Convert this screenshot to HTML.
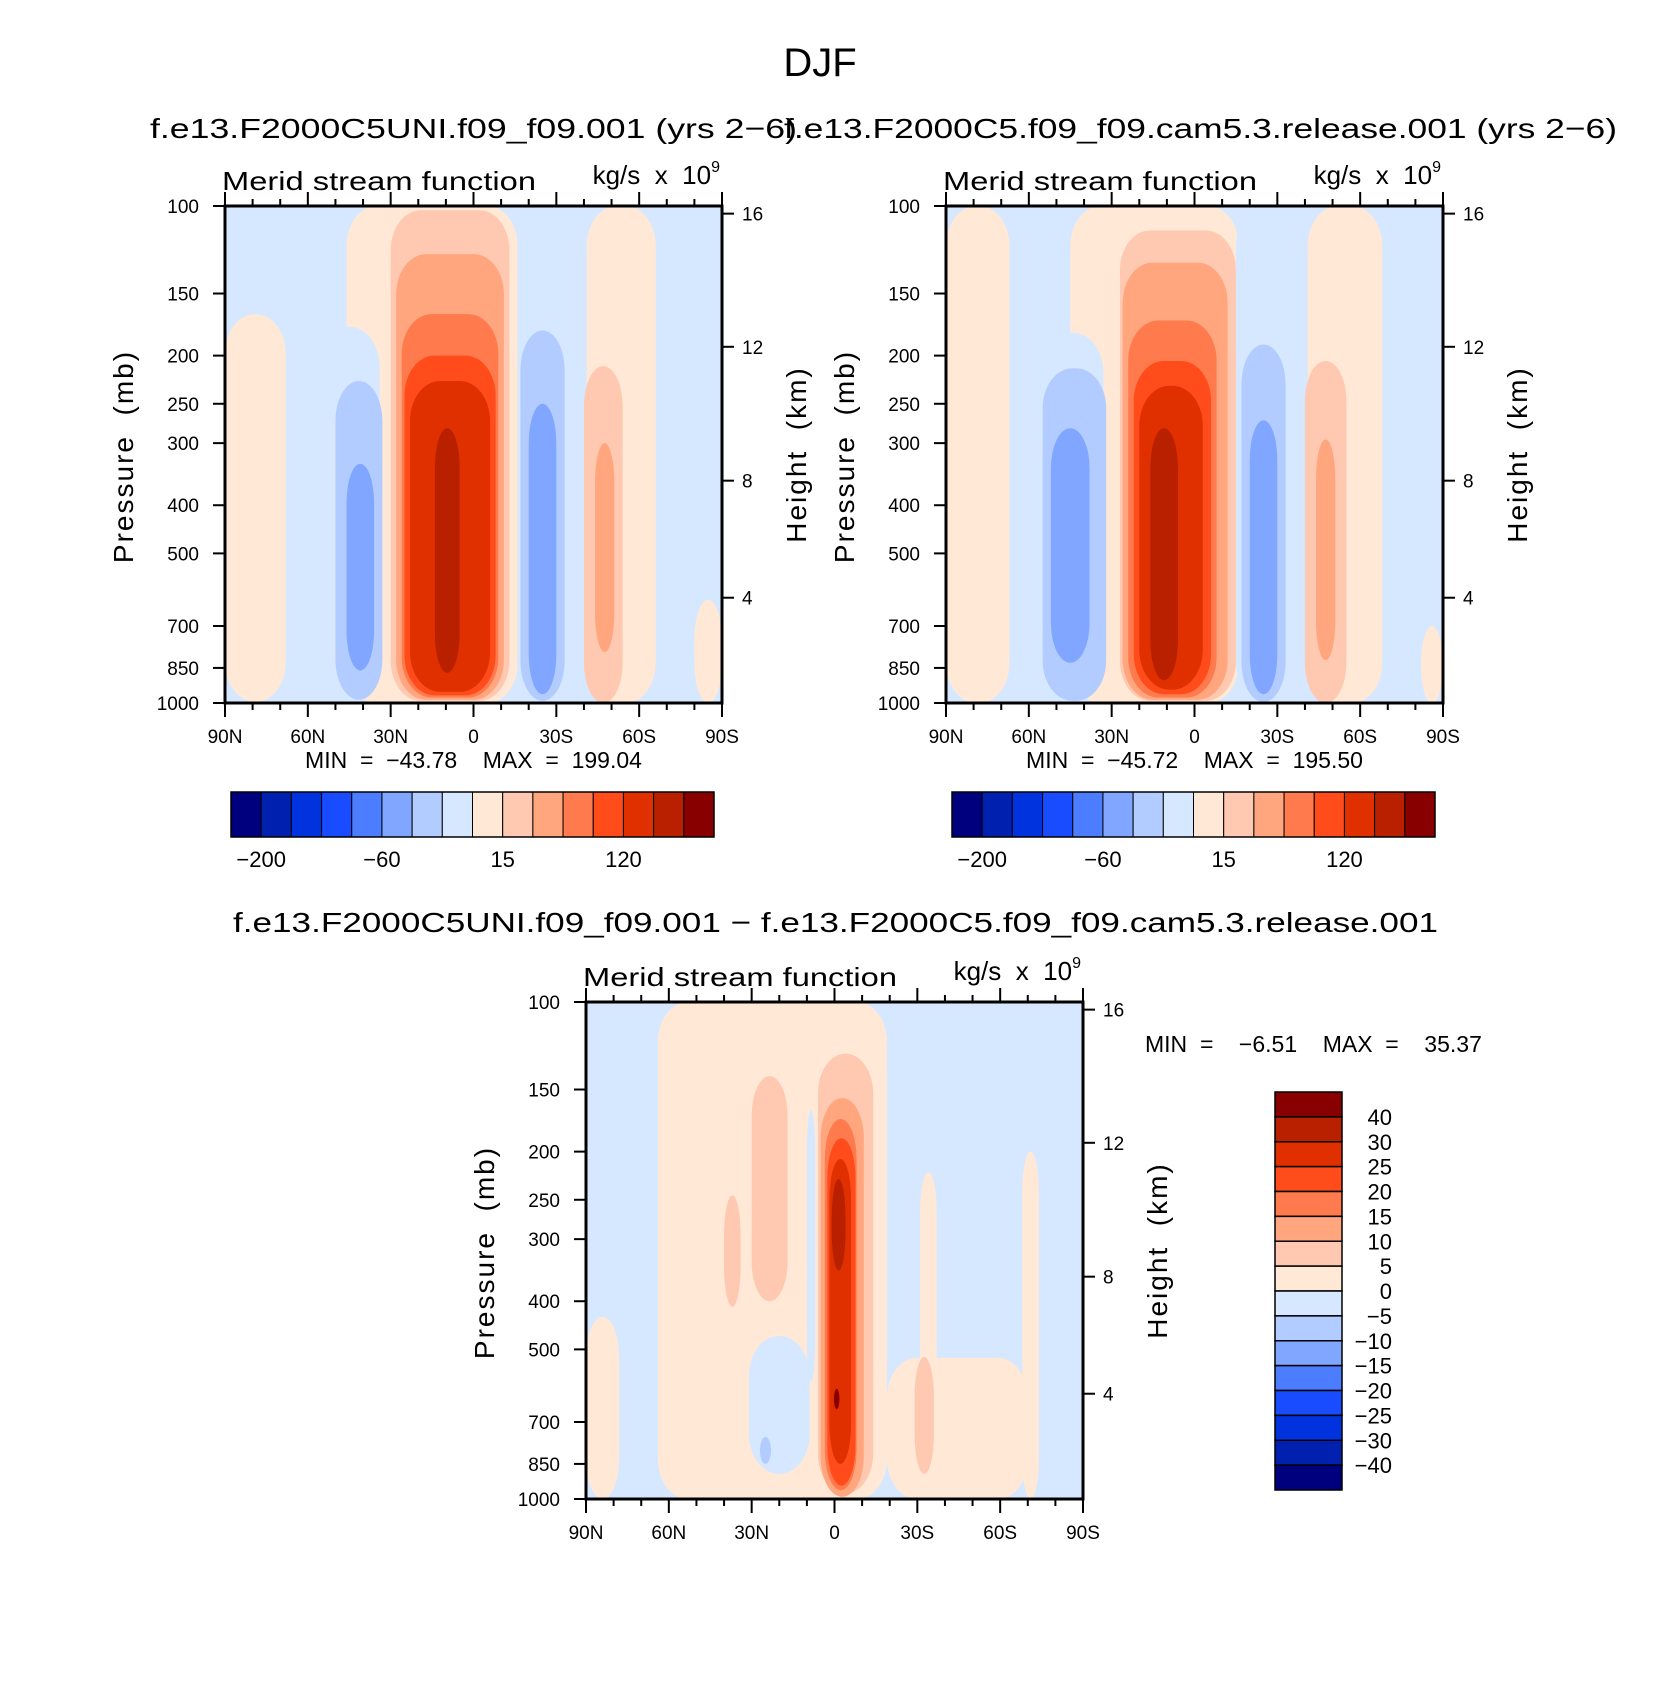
<!DOCTYPE html>
<html><head><meta charset="utf-8">
<style>
html,body{margin:0;padding:0;background:#fff;}
svg{display:block;font-family:"Liberation Sans",sans-serif;}
text{white-space:pre;}
</style></head>
<body>
<svg id="fig" width="1660" height="1691" viewBox="0 0 1660 1691" xmlns="http://www.w3.org/2000/svg">
<text x="820" y="76" font-size="40" text-anchor="middle">DJF</text>
<text x="150" y="138" font-size="28" textLength="647" lengthAdjust="spacingAndGlyphs">f.e13.F2000C5UNI.f09_f09.001 (yrs 2−6)</text>
<text x="784" y="138" font-size="28" textLength="833" lengthAdjust="spacingAndGlyphs">f.e13.F2000C5.f09_f09.cam5.3.release.001 (yrs 2−6)</text>
<text x="233" y="932" font-size="28" textLength="1205" lengthAdjust="spacingAndGlyphs">f.e13.F2000C5UNI.f09_f09.001 − f.e13.F2000C5.f09_f09.cam5.3.release.001</text>
</svg>
<script>
// ---- data ----
const latTicks = [90,60,30,0,-30,-60,-90];
const latTickLabels = ["90N","60N","30N","0","30S","60S","90S"];
const presTicks = [100,150,200,250,300,400,500,700,850,1000];
const heightTicks = [4,8,12,16];
const heightTickPres = [614,357,192,103.6];
const levelsFull = [-200,-150,-100,-80,-60,-40,-15,0,15,40,60,80,120,150,200];
const levelsFullLabels = ["-200","","","","-60","","","","15","","","","120","",""];
const levelsDiff = [-40,-30,-25,-20,-15,-10,-5,0,5,10,15,20,25,30,40];
const colors = ["#00007f","#0020b0","#0033dd","#1a4cff","#4c7dff","#80a6ff","#b3ccff","#d6e8ff","#ffe8d6","#ffc8b0","#ffa67f","#ff7a4c","#ff4c1a","#e03000","#b82000","#880000"];
// patches: [latNorth, latSouth, pTop, pBottom, colorIndex(1-16)]
const patches1 = [
 [90,-90,100,1000,8],[90,68,165,995,9],[46,-16,100,1000,9],[57,34,175,1000,8],
 [50,33,225,985,7],[46,36,330,860,6],
 [30,-13,102,990,10],[28,-11,125,985,11],[26,-9,165,975,12],[25,-8,200,965,13],[23,-6,225,950,14],[14,5,280,870,15],
 [-16,-40,100,1000,8],[-17,-33,178,990,7],[-20,-30,250,960,6],
 [-41,-66,100,1000,9],[-40,-54,210,1000,10],[-44,-51,300,790,11],[-80,-90,620,1000,9]
];
const patches2 = [
 [90,-90,100,1000,8],[90,67,100,1000,9],[45,-16,100,1000,9],[57,33,180,1000,8],
 [55,32,212,990,7],[52,38,280,830,6],
 [27,-15,112,990,10],[26,-12,130,985,11],[24,-8,170,975,12],[22,-6,205,960,13],[20,-3,230,940,14],[16,6,280,900,15],
 [-15,-40,100,1000,8],[-17,-33,190,995,7],[-20,-30,270,960,6],
 [-41,-68,100,1000,9],[-40,-55,205,1000,10],[-44,-51,295,820,11],[-82,-90,700,1000,9]
];
const patches3 = [
 [90,-90,100,1000,8],[64,-19,100,1000,9],[-19,-70,520,1000,9],[-31,-37,220,1000,9],[-68,-74,200,1000,9],
 [90,78,430,1000,9],[31,9,470,890,8],[27,23,750,850,7],[10,7,165,580,8],
 [30,17,141,400,10],[40,34,245,410,10],[-29,-36,518,890,10],
 [6,-14,127,975,10],[5,-10.6,156,990,11],[3.5,-8,172,960,12],[2.6,-7.6,188,940,13],[1.8,-6,207,850,14],[1,-4,227,347,15],[0.2,-1.8,600,660,16]
];
const panelMin = ["-43.78","-45.72","-6.51"];
const panelMax = ["199.04","195.50","35.37"];

const NS="http://www.w3.org/2000/svg";
const svg=document.getElementById('fig');
function mk(tag,attrs,parent,txt){const e=document.createElementNS(NS,tag);for(const k in attrs)e.setAttribute(k,attrs[k]);if(txt!==undefined)e.textContent=txt;(parent||svg).appendChild(e);return e;}

function panel(px,py,size,patches,idx){
 const g=mk('g',{});
 
 
 const xs=lat=>px+(90-lat)/180*size;
 const ys=p=>py+Math.log10(p/100)*size;
 const clipId='clip'+idx;
 const cp=mk('clipPath',{id:clipId},g);mk('rect',{x:px,y:py,width:size,height:size},cp);
 const fg=mk('g',{'clip-path':'url(#'+clipId+')'},g);
 
 
 patches.forEach((pt,i)=>{
  const x1=xs(pt[0]),x2=xs(pt[1]),y1=ys(pt[2]),y2=ys(pt[3]);
  const w=x2-x1,h=y2-y1;
  const rx=Math.min(w/2,30),ry=Math.min(h/2,i===0?0:40);
  const r=mk('rect',{x:x1,y:y1,width:w,height:h,rx:i===0?0:rx,ry:i===0?0:ry,fill:colors[pt[4]-1]},fg);
  
  
 });
 const fr=mk('rect',{x:px,y:py,width:size,height:size,fill:'none',stroke:'#000','stroke-width':3},g);
 
 
 for(let l=-90;l<=90;l+=10){
  const x=xs(l),maj=latTicks.includes(l),len=maj?14:7;
  mk('line',{x1:x,x2:x,y1:py+size,y2:py+size+len,stroke:'#000','stroke-width':2},g);
  mk('line',{x1:x,x2:x,y1:py,y2:py-len,stroke:'#000','stroke-width':2},g);
 }
 latTicks.forEach((l,i)=>{const t=mk('text',{x:xs(l),y:py+size+40,'font-size':19,'text-anchor':'middle'},g,latTickLabels[i]);
  
  });
 presTicks.forEach(p=>{const y=ys(p);
  mk('line',{x1:px-12,x2:px,y1:y,y2:y,stroke:'#000','stroke-width':2},g);
  const t=mk('text',{x:px-26,y:y+7,'font-size':19,'text-anchor':'end'},g,String(p));
  
  });
 heightTicks.forEach((h,i)=>{const y=ys(heightTickPres[i]);
  mk('line',{x1:px+size,x2:px+size+12,y1:y,y2:y,stroke:'#000','stroke-width':2},g);
  const t=mk('text',{x:px+size+20,y:y+7,'font-size':19},g,String(h));
  
  });
 const yc=py+size/2;
 const pl=mk('text',{x:0,y:0,'font-size':28,'text-anchor':'middle',transform:`translate(${px-92},${yc+2}) rotate(-90)`,'letter-spacing':'2'},g,'Pressure  (mb)');
 
 
 const hl=mk('text',{x:0,y:0,'font-size':28,'text-anchor':'middle',transform:`translate(${px+size+84},${yc}) rotate(-90)`,'letter-spacing':'2'},g,'Height  (km)');
 
 
 const ml=mk('text',{x:px-3,y:py-16,'font-size':26,textLength:314,lengthAdjust:'spacingAndGlyphs'},g,'Merid stream function');
 
 
 const ul=mk('text',{x:px+size-2,y:py-22,'font-size':26,'text-anchor':'end'},g);
 
 
 ul.textContent='kg/s  x  10';
 mk('tspan',{'font-size':16,dy:-12},ul,'9');
 return {xs,ys};
}
function hcolorbar(x,y,w,h,mid,i){
 const g=mk('g',{});
 
 
 const bw=w/16;
 colors.forEach((c,k)=>{const r=mk('rect',{x:x+k*bw,y:y,width:bw,height:h,fill:c,stroke:'#000','stroke-width':1},g);
  
  });
 mk('rect',{x:x,y:y,width:w,height:h,fill:'none',stroke:'#000','stroke-width':1.5},g);
 levelsFull.forEach((v,k)=>{if(levelsFullLabels[k]){const t=mk('text',{x:x+(k+1)*bw,y:y+h+30,'font-size':22,'text-anchor':'middle'},g,levelsFullLabels[k].replace('-','−'));
  
  }});
}
const sz=497;
panel(225,206,sz,patches1,0);
panel(946,206,sz,patches2,1);
panel(586,1002,sz,patches3,2);
[[225,0],[946,1]].forEach(([px,i])=>{
 const t=mk('text',{x:px+sz/2,y:768,'font-size':23,'text-anchor':'middle'},svg,`MIN  =  ${panelMin[i].replace('-','−')}    MAX  =  ${panelMax[i]}`);
 
 
});
hcolorbar(231,792,483,45,0,0);
hcolorbar(952,792,483,45,0,1);
const mm=mk('text',{x:1145,y:1052,'font-size':23},svg,`MIN  =    ${panelMin[2].replace('-','−')}    MAX  =    ${panelMax[2]}`);


(function(){
 const g=mk('g',{});
 
 
 const x=1275,y=1092,w=67,h=398,bh=h/16;
 for(let k=0;k<16;k++){
  const r=mk('rect',{x:x,y:y+k*bh,width:w,height:bh,fill:colors[15-k],stroke:'#000','stroke-width':1.5},g);
  
  
 }
 for(let k=0;k<15;k++){
  const v=levelsDiff[14-k];
  const t=mk('text',{x:1392,y:y+(k+1)*bh+8,'font-size':22,'text-anchor':'end'},g,String(v).replace('-','−'));
  
  
 }
})();
</script>
</body></html>
